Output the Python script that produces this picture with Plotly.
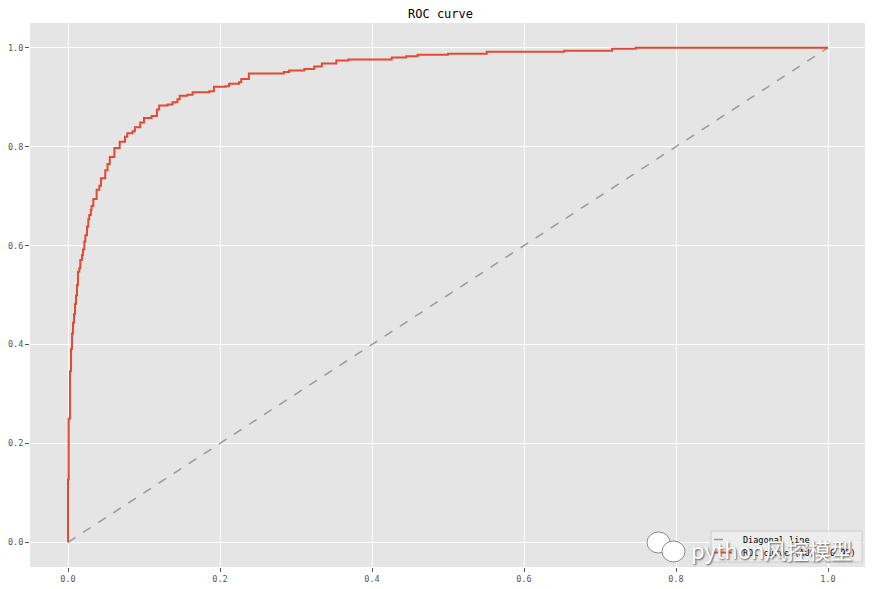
import plotly.graph_objects as go

fpr = [0, 0, 0.0009, 0.0026, 0.004, 0.0053, 0.0066, 0.0079, 0.0092, 0.0105, 0.0118,
       0.0131, 0.0149, 0.0162, 0.0184, 0.0197, 0.0215, 0.0228, 0.025, 0.0267, 0.028,
       0.030, 0.031, 0.0333, 0.0377, 0.0412, 0.0434, 0.049, 0.052, 0.055, 0.061,
       0.068, 0.075, 0.078, 0.085, 0.088, 0.095, 0.100, 0.110, 0.117, 0.120, 0.131,
       0.1375, 0.144, 0.147, 0.157, 0.164, 0.186, 0.192, 0.207, 0.212, 0.225, 0.228,
       0.238, 0.284, 0.291, 0.311, 0.324, 0.334, 0.353, 0.369, 0.426, 0.445, 0.460,
       0.500, 0.551, 0.653, 0.716, 0.747, 1.0]
tpr = [0, 0.127, 0.250, 0.346, 0.391, 0.422, 0.444, 0.461, 0.482, 0.499, 0.520,
       0.547, 0.554, 0.571, 0.581, 0.592, 0.608, 0.621, 0.638, 0.653, 0.662,
       0.672, 0.680, 0.694, 0.713, 0.721, 0.736, 0.752, 0.765, 0.779, 0.797,
       0.810, 0.820, 0.827, 0.831, 0.839, 0.849, 0.858, 0.862, 0.875, 0.883, 0.885,
       0.890, 0.896, 0.903, 0.905, 0.910, 0.912, 0.921, 0.922, 0.927, 0.930, 0.937,
       0.948, 0.951, 0.954, 0.957, 0.962, 0.968, 0.974, 0.976, 0.980, 0.983, 0.986,
       0.988, 0.992, 0.994, 0.998, 1.0, 1.0]
diag_x = [0, 1]
diag_y = [0, 1]
tick_vals = [0.0, 0.2, 0.4, 0.6, 0.8, 1.0]
tick_text = ["0.0", "0.2", "0.4", "0.6", "0.8", "1.0"]
title_text = "ROC curve"
diag_label = "Diagonal line"
roc_label = "ROC curve (AUC = 0.95)"
watermark = "python风控模型"

MONO = "DejaVu Sans Mono, Liberation Mono, monospace"
DIAG_COLOR = "#999999"
ROC_COLOR = "#E24A33"

fig = go.Figure()
fig.add_trace(go.Scatter(x=diag_x, y=diag_y, mode="lines", name=diag_label,
                         line=dict(color=DIAG_COLOR, width=1.5, dash="dash")))
fig.add_trace(go.Scatter(x=fpr, y=tpr, mode="lines", name=roc_label,
                         line=dict(color=ROC_COLOR, width=2, shape="hv")))

axis_common = dict(range=[-0.05, 1.05], tickvals=tick_vals, ticktext=tick_text,
                   showgrid=True, gridcolor="white", gridwidth=1, zeroline=False,
                   ticks="outside", ticklen=4, tickcolor="#555555", tickwidth=1,
                   tickfont=dict(family=MONO, size=8.5, color="#555555"),
                   showline=False, automargin=False)
fig.update_xaxes(**axis_common)
fig.update_yaxes(**axis_common)

fig.update_layout(
    width=865, height=581,
    margin=dict(l=22, r=7, t=15, b=22),
    paper_bgcolor="white", plot_bgcolor="#E5E5E5",
    title=dict(text=title_text, x=0.5, xanchor="center", yref="paper", y=1,
               yanchor="bottom", pad=dict(b=5),
               font=dict(family=MONO, size=12, color="black")),
    showlegend=False,
)

# helpers: screen pixels of the plot area (x 30..866, y 23..567) -> paper coords
def px_x(p):
    return (p - 30) / 836

def px_y(p):
    return (567 - p) / 544

# compact legend box (matplotlib style)
fig.add_shape(type="rect", xref="paper", yref="paper",
              x0=px_x(711), x1=px_x(862), y0=px_y(562), y1=px_y(531),
              fillcolor="rgba(238,238,238,0.85)", line=dict(color="#CCCCCC", width=1))
legend_rows = [(diag_label, DIAG_COLOR, "dash", 1.5, 539.5),
               (roc_label, ROC_COLOR, "solid", 2, 552.5)]
for label, color, dash, w, yy in legend_rows:
    fig.add_shape(type="line", xref="paper", yref="paper",
                  x0=px_x(714), x1=px_x(732), y0=px_y(yy), y1=px_y(yy),
                  line=dict(color=color, width=w, dash=dash))
    fig.add_annotation(text=label, xref="paper", yref="paper",
                       x=px_x(741), y=px_y(yy), xanchor="left", yanchor="middle",
                       showarrow=False, font=dict(family=MONO, size=8.5, color="black"))

# watermark overlay
fig.add_shape(type="circle", xref="paper", yref="paper",
              x0=px_x(647), x1=px_x(670), y0=px_y(553), y1=px_y(532),
              fillcolor="white", line=dict(color="#888888", width=1))
fig.add_shape(type="circle", xref="paper", yref="paper",
              x0=px_x(662), x1=px_x(685), y0=px_y(562), y1=px_y(541),
              fillcolor="white", line=dict(color="#888888", width=1))
fig.add_annotation(text=watermark, xref="paper", yref="paper",
                   x=px_x(689), y=px_y(549), xanchor="left", yanchor="middle",
                   showarrow=False,
                   font=dict(family="Noto Sans CJK SC", size=22, color="white",
                             shadow="1px 1px 2px #555555"))

fig.write_html("out.html")
